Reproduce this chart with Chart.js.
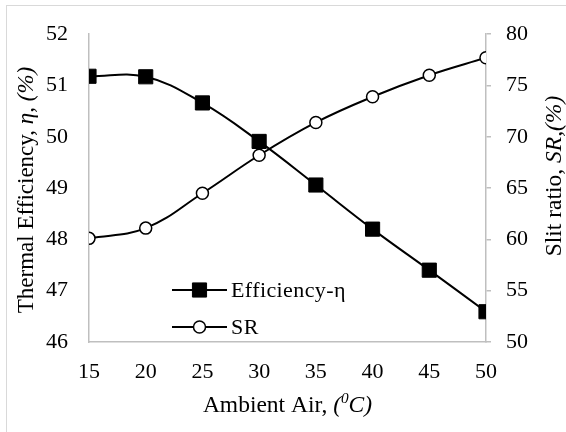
<!DOCTYPE html>
<html>
<head>
<meta charset="utf-8">
<script src="https://cdn.jsdelivr.net/npm/chart.js@4.4.0/dist/chart.umd.min.js"></script>
<style>
  html, body { margin: 0; padding: 0; background: #fff; }
  #wrap { width: 566px; height: 432px; }
</style>
</head>
<body>
<div id="wrap"><canvas id="chart"></canvas></div>
<script>
// data
const ambientAir = [15, 20, 25, 30, 35, 40, 45, 50];
const efficiency = [51.18, 51.17, 50.66, 49.91, 49.06, 48.2, 47.4, 46.59];
const slitRatio = [60.1, 61.1, 64.5, 68.2, 71.4, 73.9, 76.0, 77.7];

const xTicks = [15, 20, 25, 30, 35, 40, 45, 50];
const effTicks = [46, 47, 48, 49, 50, 51, 52];
const srTicks = [50, 55, 60, 65, 70, 75, 80];

const FONT = '"Liberation Serif", "Times New Roman", serif';
const AXIS = '#bfbfbf';

const toPoints = (xs, ys) => xs.map((x, i) => ({ x: x, y: ys[i] }));
const useTicks = list => scale => { scale.ticks = list.map(v => ({ value: v })); };

// draws a line of text made of plain / italic / superscript pieces
function richText(ctx, parts, cx, cy, size, rot) {
  ctx.save();
  ctx.translate(cx, cy);
  ctx.rotate(rot || 0);
  ctx.fillStyle = '#000';
  ctx.textBaseline = 'middle';
  ctx.textAlign = 'left';
  const fontOf = p => (p.italic ? 'italic ' : '') + (p.sup ? size * 0.65 : size) + 'px ' + FONT;
  let total = 0;
  parts.forEach(p => { ctx.font = fontOf(p); total += ctx.measureText(p.t).width; });
  let x = -total / 2;
  parts.forEach(p => {
    ctx.font = fontOf(p);
    ctx.fillText(p.t, x, p.sup ? -size * 0.3 : 0);
    x += ctx.measureText(p.t).width;
  });
  ctx.restore();
}

const extras = {
  id: 'extras',
  beforeDraw(chart) {
    const ctx = chart.ctx;
    ctx.save();
    ctx.strokeStyle = '#d9d9d9';
    ctx.lineWidth = 1;
    ctx.strokeRect(6.5, 5.5, 700, 600);
    ctx.restore();
  },
  afterDraw(chart) {
    const ctx = chart.ctx;
    const a = chart.chartArea;
    richText(ctx, [{ t: 'Thermal Efficiency, ' }, { t: 'η, (%)', italic: true }], 27, 190, 23, -Math.PI / 2);
    richText(ctx, [{ t: 'Slit ratio, ' }, { t: 'SR,(%)', italic: true }], 555, 176, 23.5, -Math.PI / 2);
    richText(ctx, [{ t: 'Ambient Air, ' }, { t: '(', italic: true }, { t: '0', italic: true, sup: true }, { t: 'C)', italic: true }],
      (a.left + a.right) / 2, 406, 23.5, 0);

    // legend inside the plot
    const rows = [290, 327];
    chart.data.datasets.forEach((ds, i) => {
      const y = rows[i];
      ctx.save();
      ctx.strokeStyle = ds.borderColor;
      ctx.lineWidth = ds.borderWidth;
      ctx.beginPath();
      ctx.moveTo(172, y);
      ctx.lineTo(227, y);
      ctx.stroke();
      ctx.fillStyle = ds.pointBackgroundColor;
      ctx.strokeStyle = ds.pointBorderColor;
      ctx.lineWidth = ds.pointBorderWidth;
      Chart.helpers.drawPoint(ctx, { pointStyle: ds.pointStyle, radius: ds.pointRadius, rotation: 0, borderWidth: ds.pointBorderWidth }, 199.5, y);
      ctx.fillStyle = '#000';
      ctx.font = '22px ' + FONT;
      ctx.letterSpacing = '0.4px';
      ctx.textBaseline = 'middle';
      ctx.fillText(ds.label, 231, y + 1);
      ctx.restore();
    });
  }
};

new Chart(document.getElementById('chart'), {
  type: 'line',
  data: {
    datasets: [
      {
        label: 'Efficiency-η',
        data: toPoints(ambientAir, efficiency),
        yAxisID: 'yEff',
        borderColor: '#000',
        borderWidth: 2,
        tension: 0.4,
        pointStyle: 'rect',
        pointRadius: 10,
        pointHoverRadius: 10,
        pointBackgroundColor: '#000',
        pointBorderColor: '#000',
        pointBorderWidth: 1
      },
      {
        label: 'SR',
        data: toPoints(ambientAir, slitRatio),
        yAxisID: 'ySR',
        borderColor: '#000',
        borderWidth: 2,
        tension: 0.4,
        pointStyle: 'circle',
        pointRadius: 6,
        pointHoverRadius: 6,
        pointBackgroundColor: '#fff',
        pointBorderColor: '#000',
        pointBorderWidth: 1.5
      }
    ]
  },
  options: {
    responsive: true,
    maintainAspectRatio: false,
    animation: false,
    layout: { padding: { top: 19, left: 0, right: 0, bottom: 0 } },
    plugins: { legend: { display: false }, tooltip: { enabled: false } },
    scales: {
      x: {
        type: 'linear',
        min: 15, max: 50,
        afterBuildTicks: useTicks(xTicks),
        afterFit: s => { s.height = 90; },
        grid: { display: false, drawTicks: false },
        border: { display: true, color: AXIS, width: 1.5 },
        ticks: { color: '#000', padding: 17, font: { family: FONT, size: 22 } }
      },
      yEff: {
        position: 'left',
        min: 46, max: 52,
        afterBuildTicks: useTicks(effTicks),
        afterFit: s => { s.width = 89; },
        grid: { display: false, drawTicks: false },
        border: { display: true, color: AXIS, width: 1.5 },
        ticks: { color: '#000', padding: 21, font: { family: FONT, size: 22 } }
      },
      ySR: {
        position: 'right',
        min: 50, max: 80,
        afterBuildTicks: useTicks(srTicks),
        afterFit: s => { s.width = 80; },
        grid: { display: true, drawOnChartArea: false, drawTicks: true, tickLength: 5, color: AXIS, lineWidth: 1.5 },
        border: { display: true, color: AXIS, width: 1.5 },
        ticks: { color: '#000', padding: 15, font: { family: FONT, size: 22 } }
      }
    }
  },
  plugins: [extras]
});
</script>
</body>
</html>
